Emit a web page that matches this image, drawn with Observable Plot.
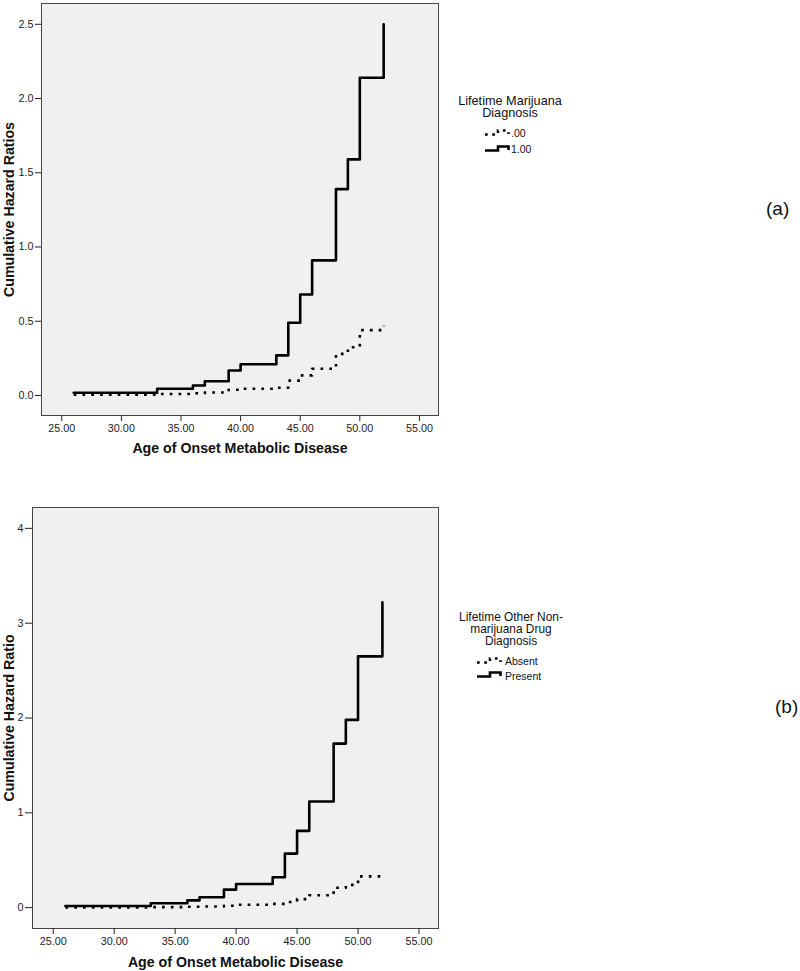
<!DOCTYPE html>
<html><head><meta charset="utf-8">
<script src="https://cdn.jsdelivr.net/npm/d3@7"></script>
<script src="https://cdn.jsdelivr.net/npm/@observablehq/plot@0.6"></script>
<style>
body{margin:0;background:#fff;font-family:"Liberation Sans",Arial,sans-serif;}
#wrap{position:relative;width:800px;height:971px;overflow:hidden;}
.chart{position:absolute;left:0;}
.ltitle{position:absolute;text-align:center;color:#111;white-space:nowrap;}
.ltext{position:absolute;font-size:10.5px;line-height:12px;color:#111;white-space:nowrap;}
.lsym{position:absolute;}
.tag{position:absolute;font-size:19px;line-height:19px;color:#111;}
</style></head>
<body><div id="wrap"></div>
<script>
// ---- data ----
const ages = [26, 33, 36, 37, 39, 40, 43, 44, 45, 46, 48, 49, 50, 52];
const xTicks = [25, 30, 35, 40, 45, 50, 55];

// (a) Lifetime Marijuana Diagnosis
const aLabels = [".00", "1.00"];
const aAbsent  = [0.005, 0.01, 0.015, 0.02, 0.038, 0.045, 0.052, 0.10, 0.135, 0.18, 0.28, 0.325, 0.44, 0.47];
const aPresent = [0.018, 0.045, 0.067, 0.096, 0.168, 0.21, 0.27, 0.49, 0.68, 0.91, 1.39, 1.59, 2.14, 2.50];
const aYTicks = [0, 0.5, 1.0, 1.5, 2.0, 2.5];

// (b) Lifetime Other Non-marijuana Drug Diagnosis
const bLabels = ["Absent", "Present"];
const bAbsent  = [0.003, 0.005, 0.01, 0.012, 0.02, 0.03, 0.04, 0.06, 0.09, 0.13, 0.21, 0.24, 0.33, 0.355];
const bPresent = [0.018, 0.046, 0.077, 0.11, 0.19, 0.25, 0.32, 0.57, 0.81, 1.12, 1.73, 1.98, 2.65, 3.22];
const bYTicks = [0, 1, 2, 3, 4];

const wrap = document.getElementById("wrap");

function makeChart(cfg) {
  const dotted = ages.map((a, i) => ({age: a, value: cfg.absent[i]}));
  const solid = ages.map((a, i) => ({age: a, value: cfg.present[i]}));
  const chart = Plot.plot({
    width: 800,
    height: cfg.height,
    marginLeft: cfg.ml,
    marginRight: 362,
    marginTop: cfg.mt,
    marginBottom: cfg.mb,
    style: {fontFamily: '"Liberation Sans", Arial, sans-serif', fontSize: "10.8px", color: "#222", background: "transparent"},
    x: {domain: [23.3, 56.6]},
    y: {domain: cfg.yDomain},
    marks: [
      Plot.frame({fill: "#f0f0f0", stroke: null}),
      Plot.line(dotted, {x: "age", y: "value", curve: "step-after", stroke: "#000", strokeWidth: 2.6, strokeDasharray: "2.7,6.1", strokeLinecap: "butt"}),
      Plot.line(solid, {x: "age", y: "value", curve: "step-after", stroke: "#000", strokeWidth: 2.6}),
      Plot.frame({stroke: "#444", strokeWidth: 1}),
      Plot.axisX({ticks: xTicks, tickFormat: d3.format(".2f"), tickSize: 6, tickPadding: 3, label: null}),
      Plot.axisX({ticks: [], label: "Age of Onset Metabolic Disease", labelAnchor: "center", labelOffset: cfg.xLabelOffset, labelArrow: "none", fontSize: 14.2, fontWeight: "bold", fill: "#111"}),
      Plot.axisY({ticks: cfg.yTicks, tickFormat: cfg.yFormat, tickSize: cfg.yTickSize, tickPadding: 2, label: null}),
      Plot.axisY({ticks: [], label: cfg.yLabel, labelAnchor: "center", labelOffset: cfg.yLabelOffset, labelArrow: "none", fontSize: 14.2, fontWeight: "bold", fill: "#111"})
    ]
  });
  chart.classList.add("chart");
  chart.style.top = cfg.top + "px";
  wrap.appendChild(chart);
}

makeChart({absent: aAbsent, present: aPresent, height: 490, top: 0, ml: 41, mt: 3, mb: 75,
  yDomain: [-0.135, 2.64], yTicks: aYTicks, yFormat: d3.format(".1f"), yTickSize: 6,
  yLabel: "Cumulative Hazard Ratios", xLabelOffset: 37, yLabelOffset: 38});
makeChart({absent: bAbsent, present: bPresent, height: 481, top: 490, ml: 32, mt: 17, mb: 43,
  yDomain: [-0.22, 4.22], yTicks: bYTicks, yFormat: d3.format("d"), yTickSize: 7,
  yLabel: "Cumulative Hazard Ratio", xLabelOffset: 38, yLabelOffset: 29});

function addLegend(cfg) {
  cfg.title.forEach((line, j) => {
    const t = document.createElement("div");
    t.className = "ltitle";
    t.style.left = cfg.cx - 80 + "px";
    t.style.width = "160px";
    t.style.fontSize = cfg.titleSize + "px";
    t.style.lineHeight = cfg.titleLH + "px";
    t.style.top = (cfg.titleBase + j * cfg.titleLH - 0.81 * cfg.titleLH) + "px";
    t.textContent = line;
    wrap.appendChild(t);
  });
  cfg.labels.forEach((lab, i) => {
    const base = cfg.baselines[i];
    const s = document.createElementNS("http://www.w3.org/2000/svg", "svg");
    s.setAttribute("width", 26); s.setAttribute("height", 12);
    s.setAttribute("class", "lsym");
    s.style.left = cfg.symLeft + "px";
    s.style.top = (base - 11) + "px";
    const p = document.createElementNS("http://www.w3.org/2000/svg", "path");
    p.setAttribute("d", "M0,8.5H13V4.5H23.5V8");
    p.setAttribute("fill", "none");
    p.setAttribute("stroke", "#000");
    p.setAttribute("stroke-width", 2.6);
    if (i === 0) p.setAttribute("stroke-dasharray", "2.7,4.6");
    s.appendChild(p);
    wrap.appendChild(s);
    const d = document.createElement("div");
    d.className = "ltext";
    d.style.left = cfg.textLeft + "px";
    d.style.top = (base - 9.6) + "px";
    d.textContent = lab;
    wrap.appendChild(d);
  });
}

addLegend({title: ["Lifetime Marijuana", "Diagnosis"], cx: 510, titleBase: 105, titleSize: 12.7, titleLH: 12.7,
  labels: aLabels, baselines: [136.7, 152.7], symLeft: 485, textLeft: 511});
addLegend({title: ["Lifetime Other Non-", "marijuana Drug", "Diagnosis"], cx: 511, titleBase: 620.5, titleSize: 11.9, titleLH: 12.2,
  labels: bLabels, baselines: [665, 679.3], symLeft: 477, textLeft: 505});

function addTag(txt, left, top) {
  const d = document.createElement("div");
  d.className = "tag";
  d.style.left = left + "px";
  d.style.top = top + "px";
  d.textContent = txt;
  wrap.appendChild(d);
}
addTag("(a)", 766, 199);
addTag("(b)", 775, 697);
</script>
</body></html>
